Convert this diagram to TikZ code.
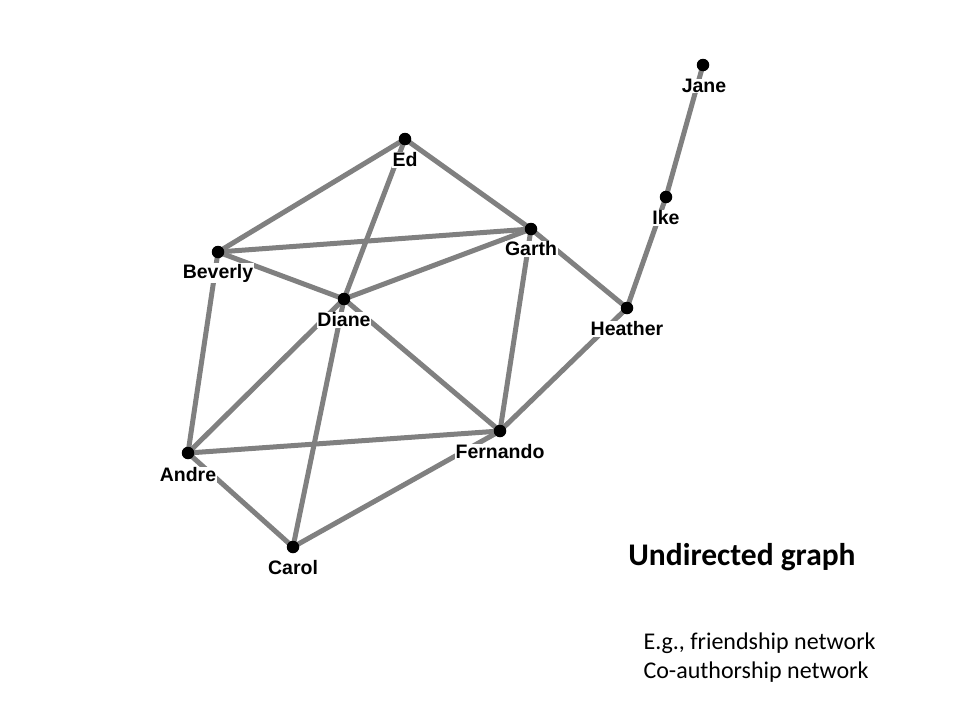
\documentclass[tikz,border=0pt]{standalone}
\usepackage{fontspec}
\setmainfont{Liberation Sans}
\newfontfamily\calibri{Carlito}
\begin{document}
\begin{tikzpicture}[x=1pt,y=-1pt,
  vtx/.style={circle,fill=black,inner sep=0pt,minimum size=12.5pt},
  edge/.style={draw=black!50,line width=5pt},
  lbl/.style={font=\fontsize{19.5}{19.5}\selectfont\bfseries,fill=white,inner sep=0.5pt,text=black},
  titlestyle/.style={font=\calibri\fontsize{31.5}{31.5}\selectfont\bfseries},
  body/.style={font=\calibri\fontsize{24}{28}\selectfont,anchor=west}]
\useasboundingbox (0,0) rectangle (960,720);
\fill[white] (0,0) rectangle (960,720);
\coordinate (Jane) at (703,65);
\coordinate (Ike) at (666,197);
\coordinate (Ed) at (405,139);
\coordinate (Garth) at (531,229);
\coordinate (Beverly) at (218,252);
\coordinate (Diane) at (344,299);
\coordinate (Heather) at (627,308);
\coordinate (Fernando) at (500,431);
\coordinate (Andre) at (188,453);
\coordinate (Carol) at (293,547);
\foreach \a/\b in {Jane/Ike,Ike/Heather,Ed/Beverly,Ed/Garth,Ed/Diane,Beverly/Garth,Beverly/Diane,Beverly/Andre,Garth/Diane,Garth/Fernando,Garth/Heather,Heather/Fernando,Diane/Andre,Diane/Carol,Diane/Fernando,Andre/Fernando,Andre/Carol,Carol/Fernando}
  \draw[edge] (\a) -- (\b);
\foreach \n/\dx/\dy in {Jane/1/21,Ike/0/21,Ed/0/21,Garth/0/20,Beverly/0/21,Diane/0/21,Heather/0/21,Fernando/0/21,Andre/0/22,Carol/0/21}
  \node[lbl] (\n-l) at ([shift={(\dx,\dy)}]\n) {\n};
\foreach \n in {Jane,Ike,Ed,Garth,Beverly,Diane,Heather,Fernando,Andre,Carol}
  \node[vtx] (\n-v) at (\n) {};
\node[titlestyle] (title) at (742,557) {Undirected graph};
\node[body] (ex1) at (640,643) {E.g., friendship network};
\node[body] (ex2) at (640,672) {Co-authorship network};
\end{tikzpicture}
\end{document}
